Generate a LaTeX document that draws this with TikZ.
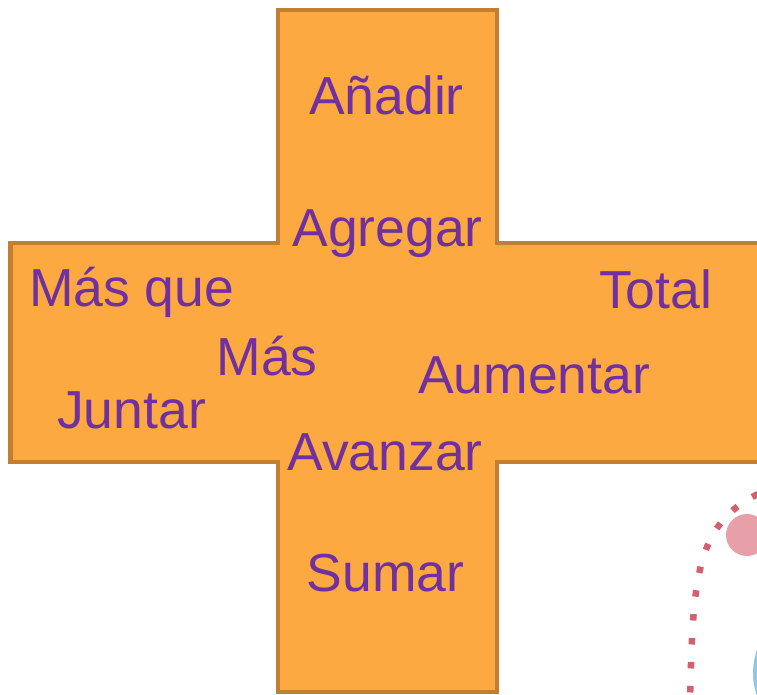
\documentclass[tikz,border=0pt]{standalone}
\usepackage{fontspec}
\setmainfont{Liberation Sans}
\definecolor{crossfill}{HTML}{FDA941}
\definecolor{crossline}{HTML}{C17F2F}
\definecolor{wordcol}{HTML}{7030A0}
\definecolor{dotred}{HTML}{D45F6E}
\definecolor{pinkc}{HTML}{E8A0A8}
\definecolor{bluec}{HTML}{8EC8EA}
\tikzset{
  word/.style={anchor=base, inner sep=0pt, text=wordcol, font=\fontsize{53.5}{60}\selectfont},
}
\begin{document}
\begin{tikzpicture}[x=1pt,y=-1pt]
\useasboundingbox (0,0) rectangle (757,695);
\begin{scope}
\clip (0,0) rectangle (757,695);
\draw[line width=4.5pt, draw=crossline, fill=crossfill, line join=miter]
  (278,10) -- (497,10) -- (497,243) -- (765,243) -- (765,462) -- (497,462)
  -- (497,692) -- (278,692) -- (278,462) -- (10.5,462) -- (10.5,243) -- (278,243) -- cycle;
\draw[dotred, line width=6.5pt, dash pattern=on 6.5pt off 17.5pt]
  (758,494) .. controls (695,525) and (693,580) .. (690,700);
\fill[pinkc] (747,535) circle (21);
\fill[bluec] (821,673) circle (68);
\end{scope}
\node[word] (w1) at (386.5,115) {Añadir};
\node[word] (w2) at (387.5,246.7) {Agregar};
\node[word] (w3) at (131.7,306.7) {Más que};
\node[word] (w4) at (655.5,308) {Total};
\node[word] (w5) at (267,375) {Más};
\node[word] (w6) at (534,393) {Aumentar};
\node[word] (w7) at (131.5,428) {Juntar};
\node[word] (w8) at (385,470) {Avanzar};
\node[word] (w9) at (385.5,591) {Sumar};
\end{tikzpicture}
\end{document}
